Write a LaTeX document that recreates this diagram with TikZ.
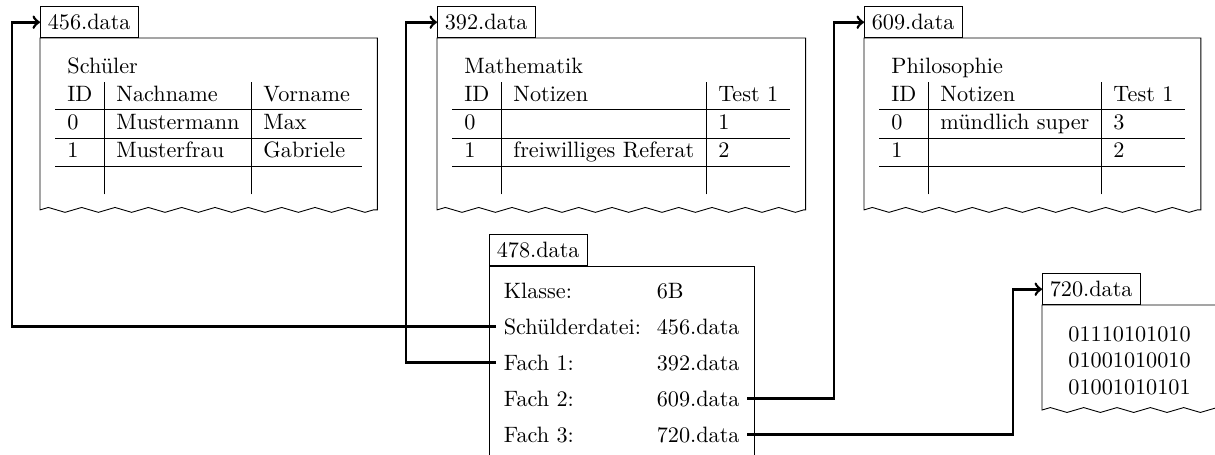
\documentclass[tikz,border=0pt]{standalone}
\usetikzlibrary{decorations.pathmorphing,calc}
\setlength{\tabcolsep}{5.4pt}
\renewcommand{\arraystretch}{1.03}
\begin{document}
\begin{tikzpicture}[x=0.45pt,y=-0.45pt,
  filetab/.style={draw, anchor=south west, inner sep=3.33pt},
  wavy/.style={decoration={zigzag,segment length=15pt,amplitude=1.1pt}},
  link/.style={very thick,->},
  entry/.style={anchor=base west, inner sep=3.33pt},
  datatable/.style={anchor=north west, inner sep=0pt}]
\useasboundingbox (0,0) rectangle (1215,454);
\clip (0,0) rectangle (1215,454);

% ---- file 456.data : pupils
\node[datatable] (tabA) at (55,54) {\begin{tabular}{l|l|l}
  \multicolumn{3}{l}{Schüler}\\
  ID & Nachname & Vorname\\\hline
  0 & Mustermann & Max\\\hline
  1 & Musterfrau & Gabriele\\\hline
  & & \\
\end{tabular}};
\coordinate (A1) at ($(tabA.north west)+(-15,-16)$);
\coordinate (A2) at ($(tabA.south east)+(15,15)$);
\draw (A1) -- (A1 |- A2) decorate[wavy]{-- (A2)} -- (A2 |- A1) -- cycle;
\node[filetab] (fA) at (A1) {456.data};

% ---- file 392.data : mathematics
\node[datatable] (tabB) at (452,54) {\begin{tabular}{l|l|l}
  \multicolumn{3}{l}{Mathematik}\\
  ID & Notizen & Test 1\\\hline
  0 & & 1\\\hline
  1 & freiwilliges Referat & 2\\\hline
  & & \\
\end{tabular}};
\coordinate (B1) at ($(tabB.north west)+(-15,-16)$);
\coordinate (B2) at ($(tabB.south east)+(15,15)$);
\draw (B1) -- (B1 |- B2) decorate[wavy]{-- (B2)} -- (B2 |- B1) -- cycle;
\node[filetab] (fB) at (B1) {392.data};

% ---- file 609.data : philosophy
\node[datatable] (tabC) at (879,54) {\begin{tabular}{l|l|l}
  \multicolumn{3}{l}{Philosophie}\\
  ID & Notizen & Test 1\\\hline
  0 & mündlich super & 3\\\hline
  1 & & 2\\\hline
  & & \\
\end{tabular}};
\coordinate (C1) at ($(tabC.north west)+(-15,-16)$);
\coordinate (C2) at ($(tabC.south east)+(15,15)$);
\draw (C1) -- (C1 |- C2) decorate[wavy]{-- (C2)} -- (C2 |- C1) -- cycle;
\node[filetab] (fC) at (C1) {609.data};

% ---- file 478.data : class record
\coordinate (D1) at (489,266);
\coordinate (D2) at (754,470);
\draw (D1 |- D2) -- (D1) -- (D2 |- D1) -- (D2);
\node[filetab] (fD) at (D1) {478.data};
\node[entry] (k1) at (496,298) {Klasse:};
\node[entry] (k2) at (496,334) {Schülderdatei:};
\node[entry] (k3) at (496,370) {Fach 1:};
\node[entry] (k4) at (496,406) {Fach 2:};
\node[entry] (k5) at (496,442) {Fach 3:};
\node[entry] (v1) at (649,298) {6B};
\node[entry] (v2) at (649,334) {456.data};
\node[entry] (v3) at (649,370) {392.data};
\node[entry] (v4) at (649,406) {609.data};
\node[entry] (v5) at (649,442) {720.data};

% ---- file 720.data : raw bits
\coordinate (E1) at (1042,305);
\coordinate (E2) at (1235,410);
\draw (E2 |- E1) -- (E1) -- (E1 |- E2) decorate[wavy]{-- (E2)};
\node[filetab] (fE) at (E1) {720.data};
\node[anchor=north west, inner sep=0pt, align=left] (bits) at (1068,326)
  {01110101010\\01001010010\\01001010101};

% ---- references between files
\coordinate (bA) at (12,0);
\coordinate (bB) at (406,0);
\coordinate (bC) at (834,0);
\coordinate (bE) at (1013,0);
\draw[link] (k2.west) -- (k2.west -| bA) |- (fA.west);
\draw[link] (k3.west) -- (k3.west -| bB) |- (fB.west);
\draw[link] (v4.east) -- (v4.east -| bC) |- (fC.west);
\draw[link] (v5.east) -- (v5.east -| bE) |- (fE.west);
\end{tikzpicture}
\end{document}
